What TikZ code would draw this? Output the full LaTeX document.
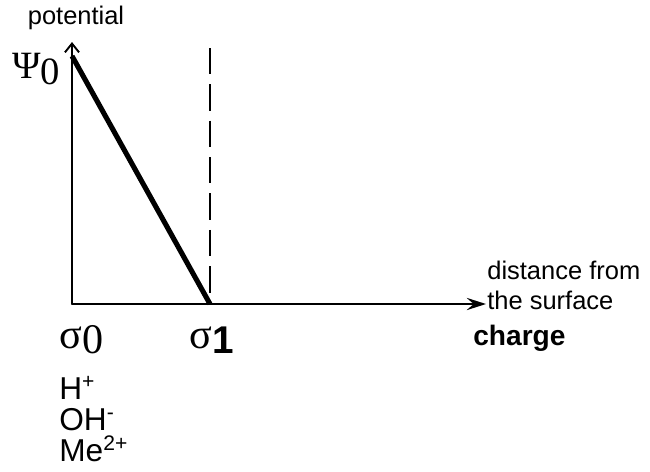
\documentclass[tikz,border=0pt]{standalone}
\usepackage{fontspec}
\setmainfont{Liberation Sans}
\newfontfamily\grk{Liberation Serif}
\newfontfamily\hlv{Liberation Sans}
\usetikzlibrary{arrows.meta, positioning, calc}

\tikzset{
  axis/.style={line width=1.1pt},
  lbl/.style={inner sep=0pt, font=\fontsize{14.5pt}{17pt}\selectfont},
  ion/.style={inner sep=0pt, anchor=base west, font=\fontsize{18pt}{20pt}\selectfont},
  greek/.style={inner sep=0pt, anchor=west, font=\fontsize{24pt}{26pt}\selectfont\grk}
}
\newcommand{\lowsub}[1]{\raisebox{-3pt}{#1}}
\newcommand{\ionsup}[1]{\raisebox{6pt}{\fontsize{12pt}{12pt}\selectfont #1}}

\begin{document}
\begin{tikzpicture}[x=0.02cm, y=-0.02cm, line cap=round, line join=round]
  \useasboundingbox (0,0) rectangle (650,471);

  % axes
  \coordinate (O) at (72,304);
  \coordinate (Ytop) at (72,42);
  \coordinate (Xend) at (486,304);
  \coordinate (Top) at (72,56);
  \coordinate (Sig1) at (210,304);
  \coordinate (Dtop) at (210,48);

  \draw[axis, -{Straight Barb[length=5pt, width=8pt]}] (O) -- (Ytop);
  \draw[axis, -{Stealth[length=11pt, width=7pt, inset=4pt]}] (O) -- (Xend);

  % potential drop
  \draw[line width=2.9pt, line cap=butt] (Top) -- (Sig1);
  \draw[line width=1.4pt, line cap=butt, dash pattern=on 15pt off 5.7pt] (Dtop) -- (Sig1);

  % labels
  \node[lbl] (pot) at (76,18) {potential};
  \node[greek, font=\fontsize{22pt}{24pt}\selectfont\grk] (psi) at (12,69) {Ψ\lowsub{0}};
  \node[lbl, align=left, anchor=west] (dist) at (487,285) {distance from\\the surface};
  \node[lbl, anchor=west, font=\fontsize{16pt}{19pt}\selectfont\bfseries] (chg) at (473,338) {charge};

  \node[greek] (s0) at (59,340) {σ\lowsub{0}};
  \node[greek] (s1) at (189,340) {σ\lowsub{\fontsize{22pt}{24pt}\selectfont\hlv\bfseries 1}};

  % surface ions
  \node[ion] (hp) at (59,399) {H\ionsup{+}};
  \node[ion] (oh) at (59,430) {OH\ionsup{-}};
  \node[ion] (me) at (59,461) {Me\ionsup{2+}};
\end{tikzpicture}
\end{document}
